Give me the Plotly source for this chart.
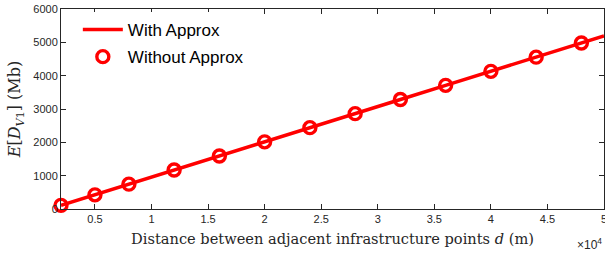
import plotly.graph_objects as go

# Data (distance in metres, E[D_V1] in Mb)
d_line = [2000, 5000, 8000, 12000, 16000, 20000, 24000, 28000, 32000, 36000, 40000, 44000, 48000, 50000]
e_line = [110, 425, 745, 1170, 1590, 2015, 2440, 2860, 3285, 3710, 4130, 4555, 4980, 5190]
d_pts = [2000, 5000, 8000, 12000, 16000, 20000, 24000, 28000, 32000, 36000, 40000, 44000, 48000]
e_pts = [110, 425, 745, 1170, 1590, 2015, 2440, 2860, 3285, 3710, 4130, 4555, 4980]

x_tickvals = [5000, 10000, 15000, 20000, 25000, 30000, 35000, 40000, 45000, 50000]
x_ticktext = ["0.5", "1", "1.5", "2", "2.5", "3", "3.5", "4", "4.5", "5"]
y_tickvals = [0, 1000, 2000, 3000, 4000, 5000, 6000]

red = "#ff0000"
fig = go.Figure()
fig.add_trace(go.Scatter(x=d_line, y=e_line, mode="lines", name="With Approx",
                         legendgroup="a", cliponaxis=False,
                         line=dict(color=red, width=3.5)))
fig.add_trace(go.Scatter(x=d_pts, y=e_pts, mode="markers", name="Without Approx",
                         legendgroup="b", cliponaxis=False,
                         marker=dict(symbol="circle-open", color=red, size=12,
                                     line=dict(color=red, width=3.4))))

axis_common = dict(showline=True, linecolor="#262626", linewidth=1, mirror="ticks",
                   ticks="inside", ticklen=5, tickcolor="#262626", showgrid=False,
                   zeroline=False, ticklabeloverflow="allow", automargin=False,
                   tickfont=dict(family="Liberation Sans, Arial", size=11, color="#262626"))

fig.update_layout(
    width=605, height=253,
    margin=dict(l=61, r=1, t=9, b=44),
    paper_bgcolor="white", plot_bgcolor="white",
    showlegend=True,
    legend=dict(x=0.031, y=0.985, xanchor="left", yanchor="top",
                bgcolor="rgba(255,255,255,1)", borderwidth=0,
                font=dict(family="Liberation Sans, Arial", size=17, color="#000000"),
                itemwidth=40, tracegroupgap=2),
    xaxis=dict(range=[2000, 50000], tickvals=x_tickvals, ticktext=x_ticktext,
               title=dict(text="Distance between adjacent infrastructure points <i>d</i> (m)",
                          font=dict(family="DejaVu Serif", size=14.6, color="#262626"),
                          standoff=9),
               **axis_common),
    yaxis=dict(range=[0, 6000], tickvals=y_tickvals,
               title=dict(text="<i>E</i>[<i>D</i><sub><i>V</i>1</sub>] (Mb)",
                          font=dict(family="DejaVu Serif", size=16, color="#262626"),
                          standoff=8),
               **axis_common),
)
fig.add_annotation(xref="paper", yref="paper", x=1.0, y=-0.125, xanchor="right", yanchor="top",
                   text="×10<sup>4</sup>", showarrow=False,
                   font=dict(family="Liberation Sans, Arial", size=12, color="#262626"))

fig.write_html("out.html", config={"displayModeBar": False},
               post_script="document.body.style.margin='0';document.body.style.overflow='hidden';")
